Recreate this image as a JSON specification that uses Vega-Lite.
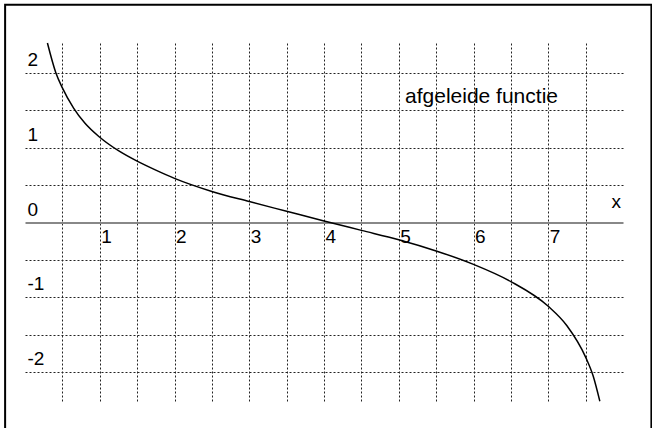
{
  "$schema": "https://vega.github.io/schema/vega-lite/v6.json",
  "width": 598,
  "height": 359,
  "autosize": {"type": "none"},
  "padding": {"left": 25, "top": 43, "right": 29, "bottom": 26},
  "background": "white",
  "config": {"view": {"stroke": null}, "font": "Liberation Sans"},
  "layer": [
    {
      "data": {"values": [{"part": "frame"}]},
      "mark": {"type": "rect", "filled": false, "stroke": "black", "strokeWidth": 2, "clip": false},
      "encoding": {
        "x": {"datum": -0.266, "type": "quantitative"},
        "x2": {"datum": 8.38},
        "y": {"datum": 2.91, "type": "quantitative"},
        "y2": {"datum": -2.85}
      }
    },
    {
      "data": {
        "values": [
          {"x": 0.30, "y": 2.40},
          {"x": 0.41, "y": 2.01},
          {"x": 0.50, "y": 1.80},
          {"x": 0.65, "y": 1.53},
          {"x": 0.80, "y": 1.33},
          {"x": 1.00, "y": 1.14},
          {"x": 1.25, "y": 0.96},
          {"x": 1.50, "y": 0.82},
          {"x": 1.75, "y": 0.70},
          {"x": 2.00, "y": 0.59},
          {"x": 2.50, "y": 0.415},
          {"x": 3.00, "y": 0.28},
          {"x": 3.50, "y": 0.15},
          {"x": 4.00, "y": 0.02},
          {"x": 4.50, "y": -0.105},
          {"x": 5.00, "y": -0.23},
          {"x": 5.50, "y": -0.38},
          {"x": 6.00, "y": -0.56},
          {"x": 6.50, "y": -0.79},
          {"x": 7.00, "y": -1.12},
          {"x": 7.25, "y": -1.38},
          {"x": 7.50, "y": -1.80},
          {"x": 7.60, "y": -2.05},
          {"x": 7.69, "y": -2.39}
        ]
      },
      "mark": {"type": "line", "color": "black", "strokeWidth": 1.5, "interpolate": "monotone"},
      "encoding": {
        "x": {
          "field": "x",
          "type": "quantitative",
          "scale": {"domain": [0, 8], "nice": false, "zero": false},
          "axis": {
            "orient": "bottom",
            "offset": -179.5,
            "values": [0.5, 1, 1.5, 2, 2.5, 3, 3.5, 4, 4.5, 5, 5.5, 6, 6.5, 7, 7.5],
            "grid": true,
            "gridDash": [2, 2],
            "gridColor": "#222222",
            "gridWidth": 1,
            "ticks": false,
            "domain": true,
            "domainColor": "#888888",
            "domainWidth": 2,
            "labelExpr": "datum.value % 1 === 0 ? '' + datum.value : ''",
            "labelAlign": "left",
            "labelBaseline": "alphabetic",
            "labelPadding": 20,
            "labelOffset": 1,
            "labelFontSize": 19,
            "labelColor": "black",
            "labelFont": "Liberation Sans",
            "labelFlush": false,
            "labelOverlap": false,
            "title": null
          }
        },
        "y": {
          "field": "y",
          "type": "quantitative",
          "scale": {"domain": [-2.4, 2.4], "nice": false, "zero": false},
          "axis": {
            "orient": "left",
            "values": [-2, -1.5, -1, -0.5, 0, 0.5, 1, 1.5, 2],
            "grid": true,
            "gridDash": [2, 2],
            "gridColor": "#222222",
            "gridWidth": 1,
            "gridOpacity": {"condition": {"test": "datum.value === 0", "value": 0}, "value": 1},
            "ticks": false,
            "domain": false,
            "labelExpr": "datum.value % 1 === 0 ? '' + datum.value : ''",
            "labelAlign": "left",
            "labelBaseline": "alphabetic",
            "labelPadding": -2,
            "labelOffset": -7.5,
            "labelFontSize": 19,
            "labelColor": "black",
            "labelFont": "Liberation Sans",
            "labelFlush": false,
            "labelOverlap": false,
            "title": null
          }
        }
      }
    },
    {
      "data": {"values": [{"label": "afgeleide functie"}]},
      "mark": {"type": "text", "align": "center", "baseline": "alphabetic", "fontSize": 21, "font": "Liberation Sans", "fill": "black"},
      "encoding": {
        "x": {"datum": 6.107, "type": "quantitative"},
        "y": {"datum": 1.594, "type": "quantitative"},
        "text": {"field": "label"}
      }
    },
    {
      "data": {"values": [{"label": "x"}]},
      "mark": {"type": "text", "align": "right", "baseline": "alphabetic", "fontSize": 19, "font": "Liberation Sans", "fill": "black"},
      "encoding": {
        "x": {"datum": 7.973, "type": "quantitative"},
        "y": {"datum": 0.19, "type": "quantitative"},
        "text": {"field": "label"}
      }
    }
  ]
}
